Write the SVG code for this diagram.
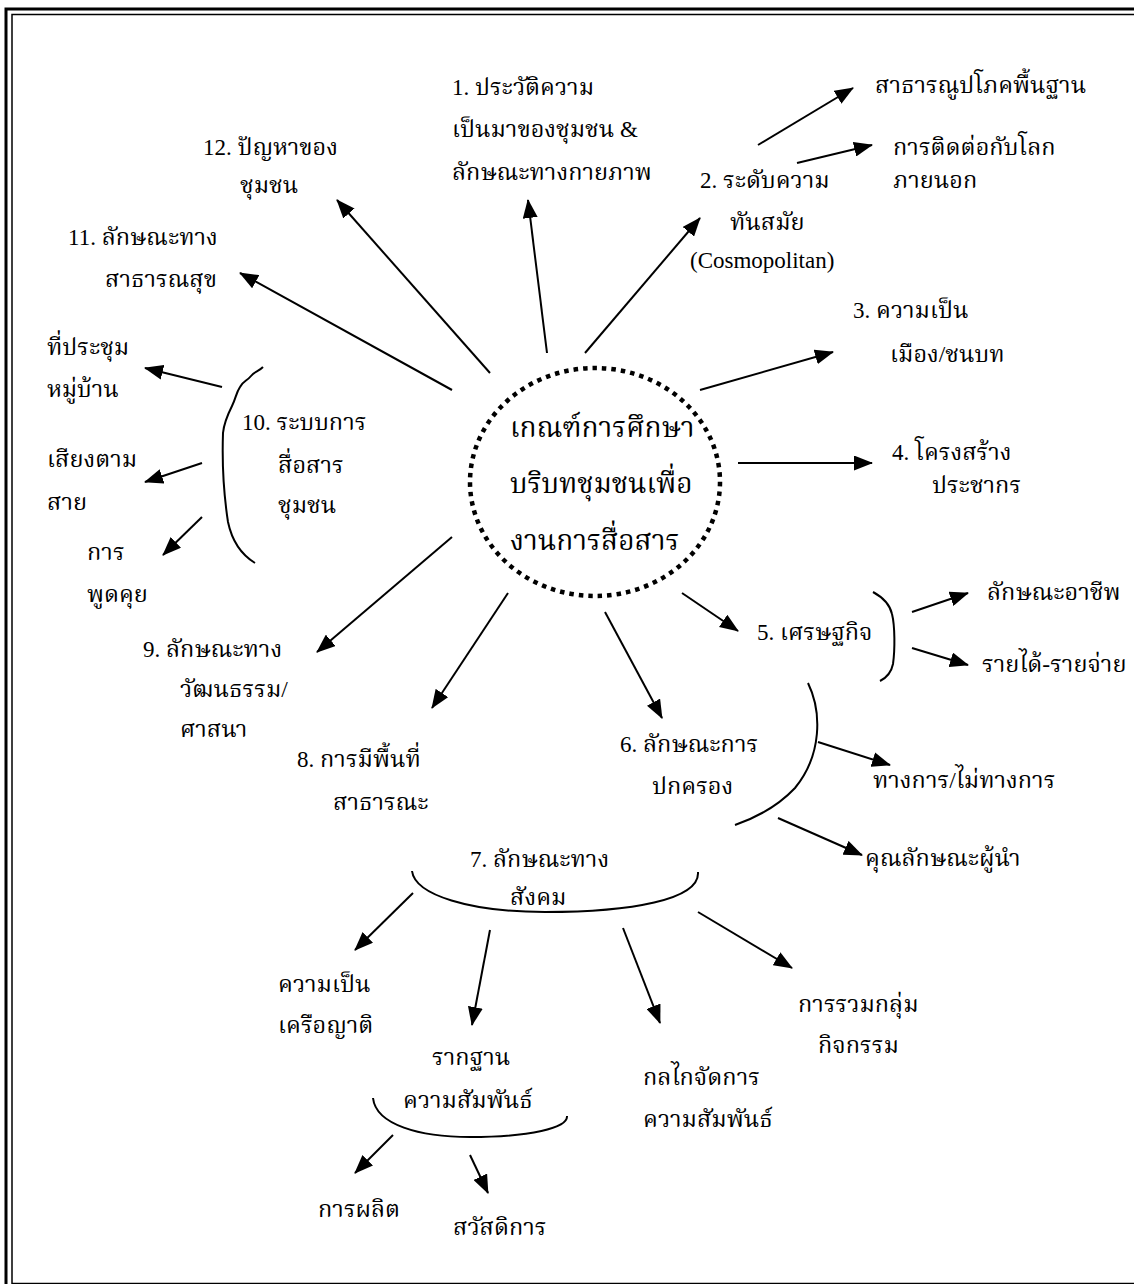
<svg xmlns="http://www.w3.org/2000/svg" width="1134" height="1284" viewBox="0 0 1134 1284">
  <defs>
    <marker id="head" markerUnits="userSpaceOnUse" markerWidth="19" markerHeight="15" viewBox="0 0 19 15" refX="18" refY="7.5" orient="auto">
      <path d="M0,0 L19,7.5 L0,15 z" fill="#000"/>
    </marker>
    <style>
      .t { font-family: "Liberation Serif", "Noto Serif Thai", "Norasi", "Noto Sans Thai Looped", "Noto Sans Thai", serif; font-size: 23.5px; fill: #000; }
      .c { font-family: "Liberation Serif", "Noto Serif Thai", "Norasi", "Noto Sans Thai Looped", "Noto Sans Thai", serif; font-size: 28px; fill: #000; }
      .n { font-size: 23px; }
      .ln { stroke: #000; stroke-width: 2; fill: none; marker-end: url(#head); }
      .br { stroke: #000; stroke-width: 2; fill: none; }
    </style>
  </defs>
  <rect width="1134" height="1284" fill="#fff"/>

  <!-- double frame -->
  <g id="frame">
    <rect x="6" y="9" width="1140" height="1290" fill="none" stroke="#000" stroke-width="3"/>
    <rect x="12" y="14.5" width="1140" height="1269" fill="none" stroke="#000" stroke-width="1.5"/>
  </g>

  <!-- central topic -->
  <g id="center">
    <ellipse cx="595" cy="482" rx="125" ry="114" fill="none" stroke="#000" stroke-width="4.5" stroke-dasharray="4.5 5"/>
    <text class="c" x="510" y="437">เกณฑ์การศึกษา</text>
    <text class="c" x="510" y="493">บริบทชุมชนเพื่อ</text>
    <text class="c" x="510" y="550">งานการสื่อสาร</text>
  </g>

  <g id="n1"><text class="t" x="452" y="95"><tspan class="n">1. </tspan>ประวัติความ</text><text class="t" x="452" y="137">เป็นมาของชุมชน <tspan class="n">&amp;</tspan></text><text class="t" x="452" y="180">ลักษณะทางกายภาพ</text></g>
  <g id="n2"><text class="t" x="700" y="188"><tspan class="n">2. </tspan>ระดับความ</text><text class="t" x="730" y="230">ทันสมัย</text><text class="t n" x="690" y="268">(Cosmopolitan)</text></g>
  <g id="n2a"><text class="t" x="875" y="93">สาธารณูปโภคพื้นฐาน</text></g>
  <g id="n2b"><text class="t" x="893" y="155">การติดต่อกับโลก</text><text class="t" x="893" y="188">ภายนอก</text></g>
  <g id="n3"><text class="t" x="853" y="318"><tspan class="n">3. </tspan>ความเป็น</text><text class="t" x="890" y="362">เมือง/ชนบท</text></g>
  <g id="n4"><text class="t" x="892" y="460"><tspan class="n">4. </tspan>โครงสร้าง</text><text class="t" x="932" y="493">ประชากร</text></g>
  <g id="n5"><text class="t" x="757" y="640"><tspan class="n">5. </tspan>เศรษฐกิจ</text></g>
  <g id="n5a"><text class="t" x="987" y="600">ลักษณะอาชีพ</text></g>
  <g id="n5b"><text class="t" x="982" y="672">รายได้-รายจ่าย</text></g>
  <g id="n6"><text class="t" x="620" y="752"><tspan class="n">6. </tspan>ลักษณะการ</text><text class="t" x="652" y="794">ปกครอง</text></g>
  <g id="n6a"><text class="t" x="873" y="788">ทางการ/ไม่ทางการ</text></g>
  <g id="n6b"><text class="t" x="865" y="866">คุณลักษณะผู้นำ</text></g>
  <g id="n7"><text class="t" x="470" y="867"><tspan class="n">7. </tspan>ลักษณะทาง</text><text class="t" x="510" y="905">สังคม</text></g>
  <g id="n7a"><text class="t" x="278" y="992">ความเป็น</text><text class="t" x="278" y="1033">เครือญาติ</text></g>
  <g id="n7b"><text class="t" x="432" y="1065">รากฐาน</text><text class="t" x="403" y="1108">ความสัมพันธ์</text></g>
  <g id="n7b1"><text class="t" x="318" y="1217">การผลิต</text></g>
  <g id="n7b2"><text class="t" x="453" y="1235">สวัสดิการ</text></g>
  <g id="n7c"><text class="t" x="643" y="1085">กลไกจัดการ</text><text class="t" x="643" y="1127">ความสัมพันธ์</text></g>
  <g id="n7d"><text class="t" x="798" y="1012">การรวมกลุ่ม</text><text class="t" x="818" y="1053">กิจกรรม</text></g>
  <g id="n8"><text class="t" x="297" y="767"><tspan class="n">8. </tspan>การมีพื้นที่</text><text class="t" x="333" y="810">สาธารณะ</text></g>
  <g id="n9"><text class="t" x="143" y="657"><tspan class="n">9. </tspan>ลักษณะทาง</text><text class="t" x="180" y="697">วัฒนธรรม/</text><text class="t" x="180" y="737">ศาสนา</text></g>
  <g id="n10"><text class="t" x="242" y="430"><tspan class="n">10. </tspan>ระบบการ</text><text class="t" x="278" y="473">สื่อสาร</text><text class="t" x="278" y="513">ชุมชน</text></g>
  <g id="n10a"><text class="t" x="47" y="355">ที่ประชุม</text><text class="t" x="47" y="397">หมู่บ้าน</text></g>
  <g id="n10b"><text class="t" x="47" y="467">เสียงตาม</text><text class="t" x="47" y="510">สาย</text></g>
  <g id="n10c"><text class="t" x="87" y="560">การ</text><text class="t" x="87" y="602">พูดคุย</text></g>
  <g id="n11"><text class="t" x="68" y="245"><tspan class="n">11. </tspan>ลักษณะทาง</text><text class="t" x="105" y="287">สาธารณสุข</text></g>
  <g id="n12"><text class="t" x="203" y="155"><tspan class="n">12. </tspan>ปัญหาของ</text><text class="t" x="240" y="193">ชุมชน</text></g>

  <!-- connectors -->
  <g id="connectors">
    <line class="ln" x1="547" y1="353" x2="528" y2="200"/>
    <line class="ln" x1="585" y1="353" x2="700" y2="218"/>
    <line class="ln" x1="758" y1="145" x2="853" y2="88"/>
    <line class="ln" x1="797" y1="163" x2="872" y2="145"/>
    <line class="ln" x1="700" y1="390" x2="833" y2="352"/>
    <line class="ln" x1="738" y1="463" x2="872" y2="463"/>
    <line class="ln" x1="682" y1="593" x2="738" y2="631"/>
    <line class="ln" x1="912" y1="612" x2="968" y2="593"/>
    <line class="ln" x1="912" y1="648" x2="968" y2="665"/>
    <line class="ln" x1="605" y1="612" x2="662" y2="718"/>
    <line class="ln" x1="818" y1="742" x2="890" y2="765"/>
    <line class="ln" x1="778" y1="818" x2="862" y2="855"/>
    <line class="ln" x1="413" y1="893" x2="355" y2="950"/>
    <line class="ln" x1="490" y1="930" x2="472" y2="1025"/>
    <line class="ln" x1="623" y1="928" x2="660" y2="1023"/>
    <line class="ln" x1="698" y1="912" x2="792" y2="968"/>
    <line class="ln" x1="393" y1="1135" x2="355" y2="1173"/>
    <line class="ln" x1="470" y1="1155" x2="488" y2="1193"/>
    <line class="ln" x1="508" y1="593" x2="432" y2="708"/>
    <line class="ln" x1="452" y1="537" x2="317" y2="652"/>
    <line class="ln" x1="222" y1="387" x2="145" y2="368"/>
    <line class="ln" x1="202" y1="463" x2="145" y2="482"/>
    <line class="ln" x1="202" y1="517" x2="163" y2="555"/>
    <line class="ln" x1="452" y1="390" x2="240" y2="273"/>
    <line class="ln" x1="490" y1="373" x2="337" y2="200"/>
    <!-- braces and arcs -->
    <path class="br" d="M263,367 C258,372 255,371 251,376 C247,381 243,381 240,387 C236,393 236,398 232,406 C228,414 224,422 223,433 C222,462 224,496 228,522 C232,541 242,555 255,563"/>
    <path class="br" d="M873,592 C884,598 890,605 892,614 C895,626 895,650 893,664 C891,674 886,678 880,681"/>
    <path class="br" d="M808,683 C822,712 822,755 795,788 C778,806 758,817 735,825"/>
    <path class="br" d="M412,871 C415,895 470,912 545,912 C630,912 700,900 698,872"/>
    <path class="br" d="M373,1098 C376,1125 420,1137 470,1137 C530,1137 568,1128 567,1116"/>
  </g>
</svg>
